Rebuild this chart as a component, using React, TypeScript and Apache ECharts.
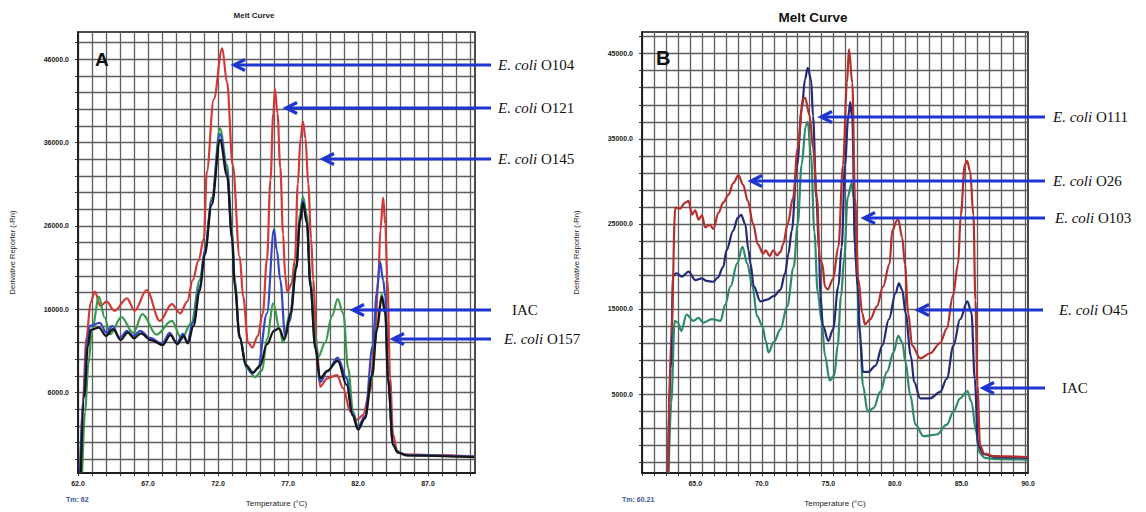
import React, { useEffect, useRef } from "react";
import * as echarts from "echarts";

// ---- Panel A: derivative melt curves (temperature °C, -Rn') ----
const aRed: [number, number][] = [
  [62.15, -3600], [62.35, 5000], [62.6, 12500], [62.9, 16800], [63.2, 18100], [63.6, 16400],
  [64.05, 16900], [64.6, 15800], [65.5, 17300], [66.05, 15800], [66.9, 18300], [67.85, 14600],
  [68.7, 16600], [69.3, 15500], [69.8, 16900], [70.2, 19500], [70.6, 21800], [71.0, 24500],
  [71.2, 32500], [71.7, 41200], [72.3, 47300], [72.65, 43200], [73.05, 33300], [73.55, 22300],
  [73.8, 17500], [74.15, 12000], [74.45, 11400], [74.85, 12800], [75.2, 15500], [75.5, 22000],
  [75.75, 31500], [75.95, 39500], [76.07, 42400], [76.25, 39500], [76.45, 33000], [76.65, 25000],
  [76.8, 20000], [76.95, 18100], [77.25, 19000], [77.5, 22000], [77.7, 31000], [77.9, 36500],
  [78.07, 38500], [78.25, 36500], [78.45, 31000], [78.65, 24500], [78.8, 19500], [79.05, 11700],
  [79.3, 6700], [79.8, 7700], [80.5, 8100], [80.95, 6500], [81.45, 3700], [81.95, 2750],
  [82.35, 3300], [82.85, 6100], [83.2, 11600], [83.45, 19500], [83.6, 25500], [83.8, 29400],
  [83.95, 26200], [84.1, 19500], [84.3, 7700], [84.5, 1000], [84.8, -1000], [85.2, -1400],
  [87.4, -1500], [90.3, -1650],
];
const aGreen: [number, number][] = [
  [62.3, -3600], [62.5, 3700], [62.75, 9500], [63.0, 13500], [63.5, 17500], [63.9, 15000],
  [64.3, 13000], [65.1, 15050], [65.95, 13150], [66.6, 15400], [67.6, 12950], [68.7, 14600],
  [69.4, 12450], [70.1, 14350], [70.7, 19500], [71.07, 23000], [71.57, 29400], [72.14, 37700],
  [72.64, 33300], [73.0, 25500], [73.2, 19500], [73.55, 12500], [74.05, 8900], [74.65, 7850],
  [75.15, 8650], [75.5, 12450], [75.95, 16700], [76.4, 13600], [76.65, 12000], [77.15, 15500],
  [77.6, 21400], [77.85, 27300], [78.07, 29500], [78.35, 27300], [78.6, 19500], [78.95, 12800],
  [79.15, 10200], [79.65, 12000], [80.15, 15200], [80.55, 17200], [80.95, 15500], [81.3, 8900],
  [81.65, 3700], [82.0, 1800], [82.5, 3000], [83.0, 7700], [83.35, 13600], [83.7, 17800],
  [83.95, 15500], [84.15, 7700], [84.5, -200], [84.85, -1150], [85.5, -1500], [90.3, -1700],
];
const aBlue: [number, number][] = [
  [62.15, -3600], [62.4, 5500], [62.65, 12000], [62.85, 14000], [63.55, 14350], [64.05, 13150],
  [64.45, 14000], [65.0, 12550], [65.5, 13400], [65.95, 12800], [66.45, 13400], [67.15, 12550],
  [68.0, 11850], [68.55, 13150], [69.05, 11950], [69.5, 13050], [69.8, 11950], [70.2, 14350],
  [70.7, 18700], [71.05, 23000], [71.55, 29000], [72.15, 37000], [72.65, 32500], [73.0, 25000],
  [73.2, 19000], [73.55, 12800], [74.0, 9200], [74.45, 8300], [74.85, 8900], [75.5, 15500],
  [76.0, 25600], [76.2, 23100], [76.45, 19500], [76.8, 12800], [77.1, 14500], [77.6, 21000],
  [77.85, 26500], [78.07, 29000], [78.35, 26500], [78.6, 19000], [78.95, 11600], [79.3, 7250],
  [79.8, 8500], [80.55, 10200], [81.2, 7700], [81.6, 3500], [82.0, 1800], [82.5, 3200],
  [83.05, 11600], [83.35, 18000], [83.57, 21700], [83.8, 19500], [83.95, 17500], [84.15, 7700],
  [84.5, -200], [84.85, -1150], [85.5, -1500], [90.3, -1700],
];
const aBlack: [number, number][] = [
  [62.2, -3600], [62.45, 5500], [62.7, 11500], [62.9, 13500], [63.5, 13800], [64.0, 12800],
  [64.5, 13600], [65.05, 12300], [65.55, 13200], [66.0, 12500], [66.5, 13100], [67.2, 12300],
  [68.05, 11700], [68.6, 12900], [69.1, 11800], [69.55, 12800], [69.85, 11900], [70.25, 14000],
  [70.7, 18200], [71.05, 22500], [71.55, 28500], [72.15, 36300], [72.65, 32000], [73.0, 24500],
  [73.2, 18700], [73.55, 12600], [74.0, 9300], [74.5, 8400], [75.0, 9200], [75.5, 11800],
  [76.0, 13400], [76.35, 13700], [76.75, 12400], [77.2, 15500], [77.6, 21000], [77.85, 26500],
  [78.07, 28800], [78.35, 26300], [78.6, 18800], [78.95, 11300], [79.3, 7700], [79.8, 8600],
  [80.55, 9800], [81.2, 6900], [81.6, 3300], [82.0, 1550], [82.5, 2900], [83.0, 8000],
  [83.35, 13500], [83.7, 17500], [83.95, 15500], [84.15, 7500], [84.5, -300], [84.85, -1200],
  [85.5, -1550], [90.3, -1750],
];

// ---- Panel B ----
const bRed: [number, number][] = [
  [62.95, -4250], [63.2, 12000], [63.5, 26900], [63.85, 26800], [64.25, 27500], [64.5, 27700],
  [64.75, 26100], [65.0, 26600], [65.25, 25500], [65.5, 26000], [65.75, 24600], [66.1, 24900],
  [66.35, 24400], [66.75, 26300], [67.1, 27500], [67.5, 28400], [67.85, 29800], [68.25, 30700],
  [68.6, 29600], [68.95, 27700], [69.35, 25000], [69.7, 22600], [70.1, 21500], [70.3, 21900],
  [70.6, 21200], [70.85, 21900], [71.15, 21300], [71.4, 21700], [71.6, 22600], [71.95, 25000],
  [72.35, 28100], [72.7, 33900], [73.1, 39700], [73.25, 39800], [73.6, 37700], [73.85, 33900],
  [74.15, 28100], [74.35, 21100], [74.55, 20300], [74.75, 17600], [74.95, 17300], [75.35, 18500],
  [75.75, 22300], [76.1, 31900], [76.4, 41600], [76.55, 45500], [76.8, 41600], [77.0, 28100],
  [77.25, 18500], [77.55, 14500], [77.75, 13200], [78.15, 13800], [78.65, 15300], [79.1, 17600],
  [79.6, 20300], [79.8, 24200], [80.15, 25400], [80.25, 25500], [80.55, 23400], [80.75, 20300],
  [81.0, 14500], [81.3, 10700], [81.9, 9200], [82.65, 9800], [83.4, 11000], [83.9, 12700],
  [84.35, 16500], [84.75, 20300], [84.95, 26100], [85.25, 31900], [85.42, 32400], [85.65, 31200],
  [85.9, 26000], [86.05, 16000], [86.2, 6000], [86.4, -1000], [86.7, -2000], [87.5, -2300],
  [89.95, -2400],
];
const bNavy: [number, number][] = [
  [62.95, -4250], [63.15, 8000], [63.35, 19000], [63.6, 19200], [64.0, 18800], [64.5, 19400],
  [65.0, 18400], [65.5, 18600], [65.85, 18300], [66.35, 18200], [66.7, 18700], [67.1, 19950],
  [67.35, 21900], [67.85, 24200], [68.2, 25750], [68.45, 26050], [68.75, 25000], [69.0, 21900],
  [69.15, 20350], [69.4, 17650], [69.9, 15900], [70.4, 16100], [70.9, 16500], [71.4, 17250],
  [71.75, 19200], [72.0, 21500], [72.25, 24200], [72.65, 31900], [73.0, 38500], [73.25, 42000],
  [73.45, 43350], [73.7, 42000], [73.85, 37700], [74.1, 28000], [74.3, 21900], [74.4, 16500],
  [74.6, 13000], [75.0, 11250], [75.35, 12600], [75.75, 17650], [76.0, 22300], [76.25, 31900],
  [76.5, 37700], [76.65, 39300], [76.8, 37300], [77.0, 22300], [77.2, 17650], [77.4, 11450],
  [77.6, 7600], [78.0, 7600], [78.55, 8350], [79.05, 10700], [79.55, 13800], [80.05, 16850],
  [80.3, 18000], [80.55, 17250], [80.8, 14550], [81.2, 9500], [81.45, 6400], [81.9, 4500],
  [82.65, 4500], [83.4, 5250], [83.9, 6800], [84.4, 10700], [84.9, 13800], [85.45, 15900],
  [85.75, 14550], [86.0, 6800], [86.25, -1000], [86.65, -2050], [87.5, -2400], [89.95, -2500],
];
const bTeal: [number, number][] = [
  [63.0, -4250], [63.2, 4000], [63.45, 13600], [63.7, 13400], [63.95, 12400], [64.35, 14350],
  [64.85, 13600], [65.25, 13950], [65.6, 13400], [66.25, 13800], [66.9, 13600], [67.25, 15500],
  [67.65, 17650], [68.15, 20350], [68.55, 22300], [68.9, 20350], [69.3, 17650], [69.65, 14150],
  [70.05, 13000], [70.3, 11250], [70.5, 9900], [70.9, 11100], [71.4, 12600], [71.9, 15300],
  [72.4, 19950], [72.7, 25000], [73.0, 32000], [73.3, 36500], [73.45, 37000], [73.7, 33000],
  [73.95, 24000], [74.2, 17000], [74.5, 13500], [74.75, 9500], [75.1, 6600], [75.45, 7200],
  [75.7, 10700], [75.95, 16500], [76.2, 21100], [76.45, 28100], [76.75, 29800], [76.9, 28100],
  [77.1, 20000], [77.35, 12600], [77.6, 6000], [77.95, 2950], [78.4, 3350], [78.9, 5250],
  [79.4, 7600], [79.9, 9900], [80.25, 11850], [80.55, 11100], [80.8, 8750], [81.15, 4900],
  [81.55, 1400], [82.15, 50], [83.15, 250], [83.9, 1400], [84.4, 2950], [84.9, 4500],
  [85.45, 5350], [85.75, 4100], [86.1, 600], [86.35, -1900], [86.75, -2500], [87.5, -2650],
  [89.95, -2700],
];

// Axis label values
const aYLabels = [6000, 16000, 26000, 36000, 46000];
const bYLabels = [5000, 15000, 25000, 35000, 45000];
const aXLabels = [62, 67, 72, 77, 82, 87];
const bXLabels = [65, 70, 75, 80, 85, 90];

// Annotation texts
const aNotes = ["O104", "O121", "O145", "IAC", "O157"];
const bNotes = ["O111", "O26", "O103", "O45", "IAC"];

// Layout of the annotation arrows (pixel positions on the page)
const aArrowLayout = [
  { tip: 233, y: 65, tail: 491, tx: 498 },
  { tip: 285, y: 108, tail: 491, tx: 498 },
  { tip: 322, y: 159, tail: 491, tx: 498 },
  { tip: 352, y: 310, tail: 491, tx: 512 },
  { tip: 392, y: 339, tail: 491, tx: 504 },
];
const bArrowLayout = [
  { tip: 820, y: 117, tail: 1045, tx: 1053 },
  { tip: 750, y: 181, tail: 1045, tx: 1053 },
  { tip: 863, y: 218, tail: 1045, tx: 1055 },
  { tip: 917, y: 310, tail: 1043, tx: 1059 },
  { tip: 982, y: 388, tail: 1045, tx: 1062 },
];

const steps = (from: number, to: number, step: number) => {
  const out: number[] = [];
  for (let v = from; v <= to + 1e-9; v += step) out.push(Math.round(v * 100) / 100);
  return out;
};

const ARROW = "#1f35d2";
const GRIDLINE = "#5e5e5e";
const TICKFONT = { fontSize: 7, fontWeight: "bold" as const, color: "#222", fontFamily: "Liberation Sans" };

function xAxisFor(grid: number, min: number, max: number, ticks: number[], labels: number[]) {
  return {
    type: "value" as const,
    gridIndex: grid,
    min,
    max,
    name: "Temperature (°C)",
    nameLocation: "middle" as const,
    nameGap: 26,
    nameTextStyle: { fontSize: 8, color: "#222", fontFamily: "Liberation Sans" },
    axisLine: { show: true, onZero: false, lineStyle: { color: "#111", width: 1.5 } },
    axisTick: { show: true, customValues: ticks, length: 3, lineStyle: { color: "#333" } },
    axisLabel: {
      customValues: labels,
      formatter: (v: number) => v.toFixed(1),
      margin: 7,
      ...TICKFONT,
    },
    splitLine: { show: true, lineStyle: { color: GRIDLINE, width: 1.3 } },
  };
}

function yAxisFor(grid: number, min: number, max: number, ticks: number[], labels: number[]) {
  return {
    type: "value" as const,
    gridIndex: grid,
    min,
    max,
    name: "Derivative Reporter (-Rn)",
    nameLocation: "middle" as const,
    nameGap: 62,
    nameTextStyle: { fontSize: 7.5, color: "#222", fontFamily: "Liberation Sans" },
    axisLine: { show: true, onZero: false, lineStyle: { color: "#111", width: 1.5 } },
    axisTick: { show: true, customValues: ticks, length: 3, lineStyle: { color: "#333" } },
    axisLabel: {
      customValues: labels,
      formatter: (v: number) => v.toFixed(1),
      margin: 9,
      ...TICKFONT,
    },
    splitLine: { show: true, lineStyle: { color: GRIDLINE, width: 1.3 } },
  };
}

function line(name: string, data: [number, number][], color: string, axis: number, width = 2.2) {
  return {
    type: "line" as const,
    name,
    data,
    xAxisIndex: axis,
    yAxisIndex: axis,
    showSymbol: false,
    smooth: 0.35,
    smoothMonotone: "x" as const,
    clip: true,
    lineStyle: { color, width },
    itemStyle: { color },
  };
}

function arrows(layout: typeof aArrowLayout, notes: string[]) {
  const els: any[] = [];
  layout.forEach((a, i) => {
    const note = notes[i];
    els.push({
      type: "line",
      shape: { x1: a.tip + 3, y1: a.y, x2: a.tail, y2: a.y },
      style: { stroke: ARROW, lineWidth: 2.8 },
      z: 50,
    });
    els.push({
      type: "polyline",
      shape: { points: [[a.tip + 12, a.y - 5.5], [a.tip + 1, a.y], [a.tip + 12, a.y + 5.5]] },
      style: { stroke: ARROW, lineWidth: 3.2, fill: null, lineJoin: "miter" },
      z: 50,
    });
    const isIac = note === "IAC";
    els.push({
      type: "text",
      x: a.tx,
      y: a.y,
      style: {
        text: isIac ? "IAC" : `{i|E. coli} ${note}`,
        rich: { i: { fontStyle: "italic", fontFamily: "Liberation Serif", fontSize: 15, fill: "#111" } },
        fontFamily: "Liberation Serif",
        fontSize: 15,
        fill: "#111",
        verticalAlign: "middle",
        align: "left",
      },
      z: 50,
    });
  });
  return els;
}

export default function App() {
  const ref = useRef<HTMLDivElement>(null);

  useEffect(() => {
    if (!ref.current) return;
    const chart = echarts.init(ref.current, undefined, { renderer: "svg" });

    const option: any = {
      animation: false,
      backgroundColor: "#ffffff",
      grid: [
        { left: 78, top: 32, width: 397, height: 447, show: true, borderColor: "#111", borderWidth: 1.5, backgroundColor: "transparent" },
        { left: 642, top: 32, width: 386, height: 447, show: true, borderColor: "#111", borderWidth: 1.5, backgroundColor: "transparent" },
      ],
      xAxis: [
        xAxisFor(0, 62, 90.36, steps(62, 90, 1), aXLabels),
        xAxisFor(1, 61, 90, steps(61, 90, 0.9), bXLabels),
      ],
      yAxis: [
        yAxisFor(0, -3650, 49250, steps(-2000, 48000, 2000), aYLabels),
        yAxisFor(1, -4275, 47550, steps(-3000, 47000, 2000), bYLabels),
      ],
      series: [
        line("A red", aRed, "#d23a3a", 0),
        line("A green", aGreen, "#3a9a4c", 0),
        line("A blue", aBlue, "#3446c4", 0),
        line("A black", aBlack, "#151515", 0, 2.2),
        line("B teal", bTeal, "#2f8a6c", 1),
        line("B navy", bNavy, "#232a78", 1),
        line("B red", bRed, "#b5302c", 1),
      ],
      graphic: [
        { type: "text", x: 254, y: 15, style: { text: "Melt Curve", fontSize: 8, fontWeight: "bold", fill: "#222", fontFamily: "Liberation Sans", align: "center", verticalAlign: "middle" } },
        { type: "text", x: 813, y: 17, style: { text: "Melt Curve", fontSize: 13.5, fontWeight: "bold", fill: "#111", fontFamily: "Liberation Sans", align: "center", verticalAlign: "middle" } },
        { type: "text", x: 95, y: 59, z: 60, style: { text: "A", fontSize: 19, fontWeight: "bold", fill: "#111", fontFamily: "Liberation Sans", verticalAlign: "middle" } },
        { type: "text", x: 656, y: 58, z: 60, style: { text: "B", fontSize: 20, fontWeight: "bold", fill: "#111", fontFamily: "Liberation Sans", verticalAlign: "middle" } },
        { type: "text", x: 66, y: 499, style: { text: "Tm: 62", fontSize: 7, fontWeight: "bold", fill: "#3a5a9a", fontFamily: "Liberation Sans", verticalAlign: "middle" } },
        { type: "text", x: 622, y: 499, style: { text: "Tm: 60.21", fontSize: 7, fontWeight: "bold", fill: "#3a5a9a", fontFamily: "Liberation Sans", verticalAlign: "middle" } },
        ...arrows(aArrowLayout, aNotes),
        ...arrows(bArrowLayout, bNotes),
      ],
    };

    chart.setOption(option);
    return () => chart.dispose();
  }, []);

  return (
    <div
      ref={ref}
      style={{ position: "fixed", left: 0, top: 0, width: 1146, height: 512, background: "#fff" }}
    />
  );
}
